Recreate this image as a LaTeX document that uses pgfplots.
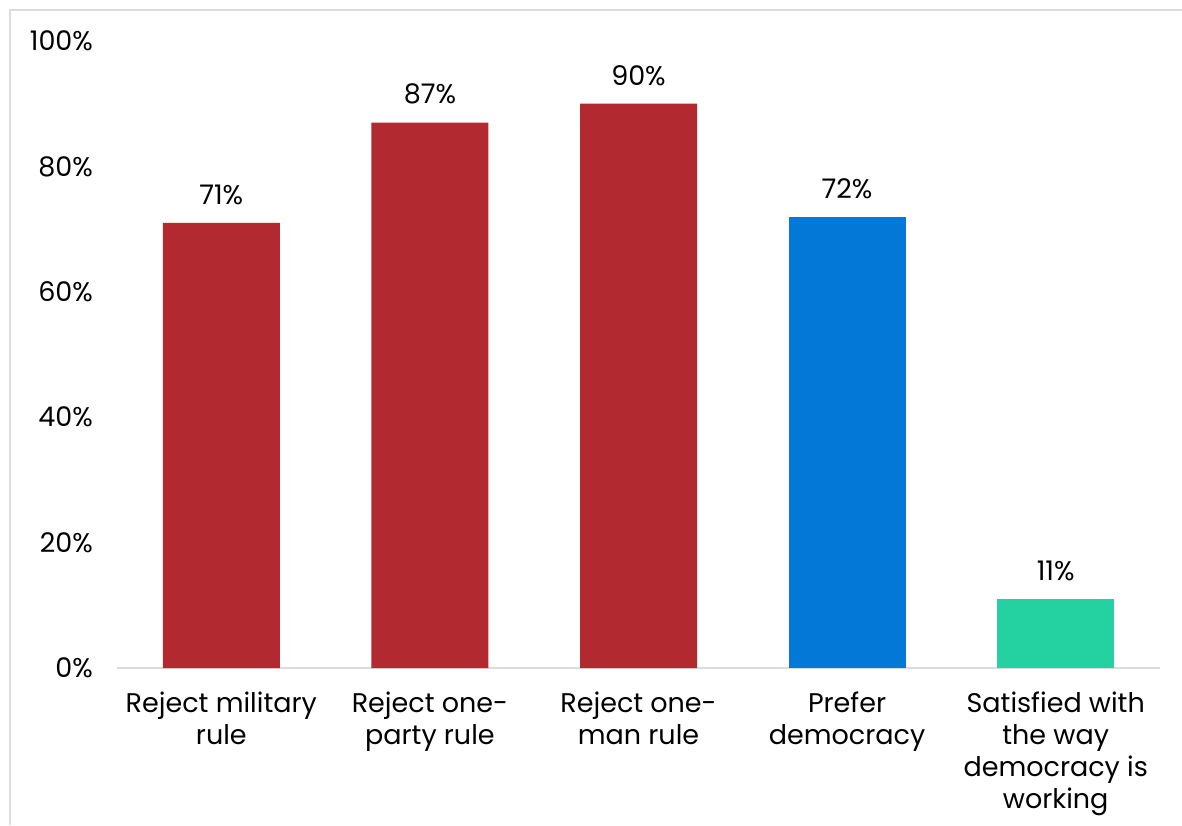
\documentclass[border=0pt]{standalone}
\usepackage{fontspec}
\setmainfont{Poppins}
\usepackage{pgfplots}
\pgfplotsset{compat=1.18}
\definecolor{barred}{HTML}{B2292F}
\definecolor{barblue}{HTML}{0478D7}
\definecolor{bargreen}{HTML}{23D1A1}
\definecolor{framegray}{HTML}{DCDCDC}
\begin{document}
\begin{tikzpicture}
\useasboundingbox (0pt,0pt) rectangle (591pt,412.5pt);
\fill[white] (0pt,0pt) rectangle (591pt,412.5pt);
\draw[framegray, line width=1pt] (5pt,0pt) -- (5pt,407.5pt) -- (591pt,407.5pt);
\begin{axis}[
  at={(58.5pt,78.5pt)}, anchor=south west,
  scale only axis,
  width=521.5pt, height=313.5pt,
  xmin=-0.5, xmax=4.5,
  ymin=0, ymax=100,
  ytick={0,20,40,60,80,100},
  yticklabel={\pgfmathprintnumber{\tick}\%},
  xtick={0,1,2,3,4},
  xticklabels={{Reject military\\rule},{Reject one-\\party rule},{Reject one-\\man rule},{Prefer\\democracy},{Satisfied with\\the way\\democracy is\\working}},
  axis lines*=left,
  x axis line style={draw=framegray, line width=1pt, -},
  y axis line style={draw=none},
  major tick length=0pt,
  tick style={draw=none},
  /pgf/number format/assume math mode=true,
  ticklabel style={font=\fontsize{13.5}{16}\selectfont, text=black},
  xticklabel style={align=center, yshift=-8.5pt},
  yticklabel style={xshift=-8.5pt},
  ybar, bar width=58.5pt, bar shift=0pt,
  nodes near coords={\pgfmathprintnumber{\pgfplotspointmeta}\%},
  every node near coord/.append style={font=\fontsize{13.5}{16}\selectfont, text=black, yshift=5.5pt},
  clip=false,
]
\addplot[fill=barred, draw=none] coordinates {(0,71) (1,87) (2,90)};
\addplot[fill=barblue, draw=none] coordinates {(3,72)};
\addplot[fill=bargreen, draw=none] coordinates {(4,11)};
\end{axis}
\end{tikzpicture}
\end{document}
